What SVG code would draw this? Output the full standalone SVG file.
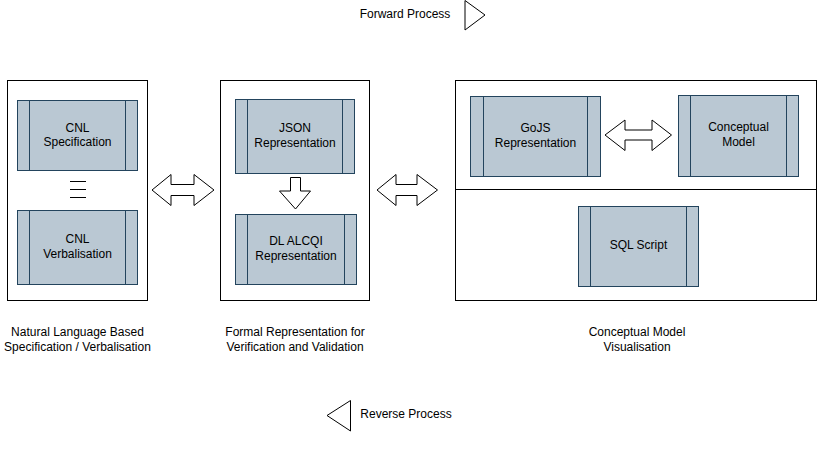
<svg xmlns="http://www.w3.org/2000/svg" width="819" height="466" viewBox="0 0 819 466">
<style>
text{font-family:"Liberation Sans",Arial,sans-serif;font-size:12px;fill:#000;text-anchor:middle}
.cont{fill:#fff;stroke:#000;stroke-width:1}
.proc{fill:#bac8d3;stroke:#23445d;stroke-width:1}
.pl{stroke:#23445d;stroke-width:1;fill:none}
.arr{fill:#fff;stroke:#000;stroke-width:1;stroke-linejoin:miter}
.ln{stroke:#000;stroke-width:1}
</style>
<rect width="819" height="466" fill="#fff"/>
<g id="forward">
<text x="405" y="18">Forward Process</text>
<path class="arr" d="M465,0.5 L485,15 L465,30 Z"/>
</g>
<g id="reverse">
<text x="406" y="418">Reverse Process</text>
<path class="arr" d="M350.5,400.5 L327,415.5 L350.5,431 Z"/>
</g>
<g id="nl-container">
<rect class="cont" x="7.5" y="80.5" width="140" height="220"/>
</g>
<g id="cnl-spec">
<rect class="proc" x="17.5" y="100.5" width="120" height="70"/>
<path class="pl" d="M29.5,100.5V170.5M125.5,100.5V170.5"/>
<text x="77.5" y="132">CNL</text>
<text x="77.5" y="146">Specification</text>
</g>
<g id="equiv">
<path class="ln" d="M70,181.5H86M70,189.5H86M70,197.5H86"/>
</g>
<g id="cnl-verb">
<rect class="proc" x="17.5" y="210.5" width="120" height="74"/>
<path class="pl" d="M29.5,210.5V284.5M125.5,210.5V284.5"/>
<text x="77.5" y="243">CNL</text>
<text x="77.5" y="258">Verbalisation</text>
</g>
<g id="formal-container">
<rect class="cont" x="220.5" y="80.5" width="149" height="220"/>
</g>
<g id="json">
<rect class="proc" x="235.5" y="99.5" width="119" height="74"/>
<path class="pl" d="M247.5,99.5V173.5M342.5,99.5V173.5"/>
<text x="295" y="132">JSON</text>
<text x="295" y="147">Representation</text>
</g>
<g id="dl">
<rect class="proc" x="235.5" y="214.5" width="121" height="70"/>
<path class="pl" d="M247.5,214.5V284.5M344.5,214.5V284.5"/>
<text x="296" y="245">DL ALCQI</text>
<text x="296" y="260">Representation</text>
</g>
<g id="viz-container">
<rect class="cont" x="455.5" y="80.5" width="361" height="220"/>
<path class="ln" d="M455.5,189.5H816.5"/>
</g>
<g id="gojs">
<rect class="proc" x="470.5" y="96.5" width="130" height="80"/>
<path class="pl" d="M483.5,96.5V176.5M587.5,96.5V176.5"/>
<text x="535.5" y="132">GoJS</text>
<text x="535.5" y="147">Representation</text>
</g>
<g id="concept">
<rect class="proc" x="678.5" y="95.5" width="120" height="81"/>
<path class="pl" d="M690.5,95.5V176.5M786.5,95.5V176.5"/>
<text x="738.5" y="131">Conceptual</text>
<text x="738.5" y="146">Model</text>
</g>
<g id="sql">
<rect class="proc" x="578.5" y="206.5" width="120" height="80"/>
<path class="pl" d="M590.5,206.5V286.5M686.5,206.5V286.5"/>
<text x="638.5" y="249">SQL Script</text>
</g>
<g id="labels">
<text x="77.5" y="336">Natural Language Based</text>
<text x="77.5" y="351">Specification / Verbalisation</text>
<text x="295" y="336">Formal Representation for</text>
<text x="295" y="351">Verification and Validation</text>
<text x="637" y="336">Conceptual Model</text>
<text x="637" y="351">Visualisation</text>
</g>
<g id="connectors">
<path class="arr" d="M152,190 L171,174.5 L171,184.5 L194,184.5 L194,174.5 L214,190 L194,205.5 L194,195.5 L171,195.5 L171,205.5 Z"/>
<path class="arr" d="M377,190 L396,174.5 L396,184.5 L417,184.5 L417,174.5 L437.5,190 L417,205.5 L417,195.5 L396,195.5 L396,205.5 Z"/>
<path class="arr" d="M605,135 L625,120 L625,130 L652,130 L652,120 L671.5,135 L652,150.5 L652,140 L625,140 L625,150.5 Z"/>
<path class="arr" d="M290.5,177.5 L300.5,177.5 L300.5,191 L310.5,191 L295.5,209 L279.5,191 L290.5,191 Z"/>
</g>
</svg>
